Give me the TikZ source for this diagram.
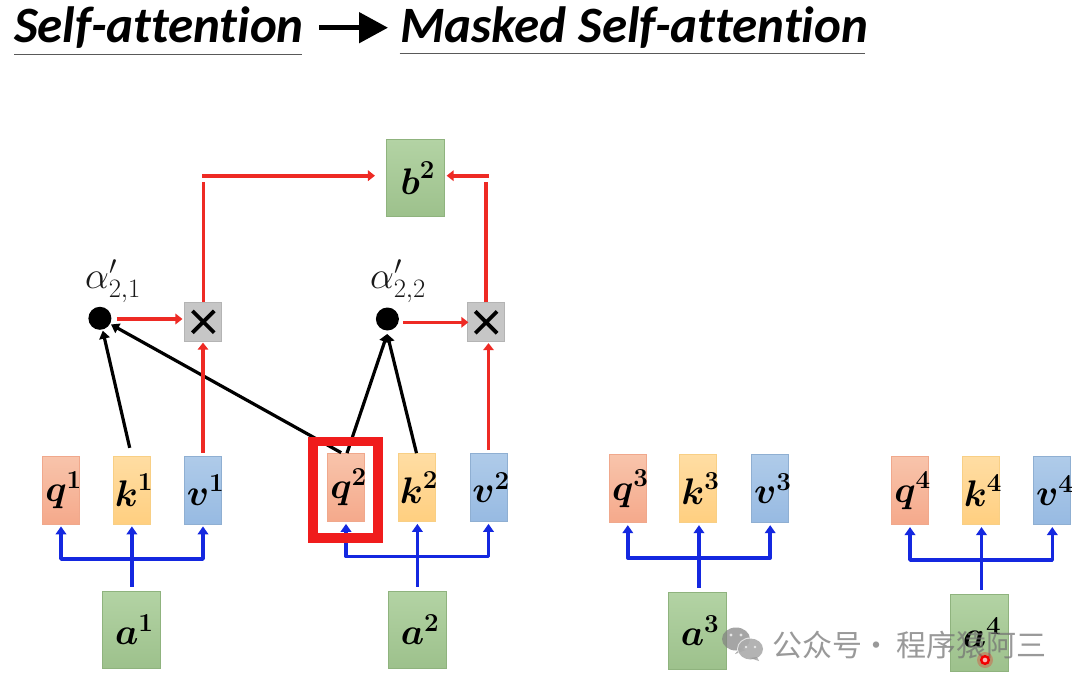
\RequirePackage{fix-cm}
\documentclass[tikz,border=0pt]{standalone}
\usepackage{amsmath}
\usepackage[no-math]{fontspec}
\usetikzlibrary{arrows.meta,shapes.misc}
\newfontfamily\titlefont[Ligatures=NoCommon]{Carlito}
\newfontfamily\cjkfont{Noto Sans CJK SC}
\newcommand{\veclabel}[2]{\makebox[0pt]{\hspace{5pt}$\boldsymbol{#1}^{\mathbf{#2}}$}}
\definecolor{arrowred}{HTML}{EE2A24}
\definecolor{arrowblue}{HTML}{1428E0}
\definecolor{qtop}{HTML}{F8C4AB}\definecolor{qbot}{HTML}{F5A98B}\definecolor{qline}{HTML}{F0A88C}
\definecolor{ktop}{HTML}{FFDDA3}\definecolor{kbot}{HTML}{FFCF80}\definecolor{kline}{HTML}{F8CF85}
\definecolor{vtop}{HTML}{AFCBE9}\definecolor{vbot}{HTML}{97BAE2}\definecolor{vline}{HTML}{8FAFD2}
\definecolor{gtop}{HTML}{B3D3A4}\definecolor{gbot}{HTML}{9DC18C}\definecolor{gline}{HTML}{8FB37E}
\definecolor{mulfill}{HTML}{C6C6C6}\definecolor{mulline}{HTML}{B4B4B4}
\definecolor{focusred}{HTML}{F01C1C}
\tikzset{
  vecfont/.style={font=\fontsize{37}{37}\selectfont},
  cell/.style={draw, line width=0.7pt, inner sep=0pt, minimum width=37pt, minimum height=68pt, text=black, vecfont},
  qcell/.style={cell, top color=qtop, bottom color=qbot, draw=qline},
  kcell/.style={cell, top color=ktop, bottom color=kbot, draw=kline},
  vcell/.style={cell, top color=vtop, bottom color=vbot, draw=vline},
  greencell/.style={cell, minimum width=58pt, minimum height=77pt, top color=gtop, bottom color=gbot, draw=gline},
  mulcell/.style={draw=mulline, fill=mulfill, line width=0.7pt, minimum width=37pt, minimum height=39pt, inner sep=0pt},
  mulmark/.style={cross out, draw=black, line width=3.8pt, minimum size=18pt, inner sep=0pt},
  weightdot/.style={circle, fill=black, minimum size=23pt, inner sep=0pt},
  weightlabel/.style={font=\fontsize{38}{38}\selectfont, text=black!90, inner sep=0pt},
  redflow/.style={draw=arrowred, line width=3.6pt, -{Triangle[length=7pt,width=10.5pt]}},
  redline/.style={draw=arrowred, line width=3.6pt},
  blueflow/.style={draw=arrowblue, line width=3.6pt, -{Triangle[length=8pt,width=10.5pt]}, line join=round},
  blackflow/.style={draw=black, line width=3.2pt, -{Triangle[length=8pt,width=10.5pt]}},
  headline/.style={font=\titlefont\bfseries\itshape\fontsize{51}{51}\selectfont, anchor=base west, inner sep=0pt},
  rule/.style={draw=black!65, line width=1.4pt},
  focus/.style={draw=focusred, line width=9.5pt, minimum width=65pt, minimum height=96.5pt, inner sep=0pt},
  stamp/.style={font=\cjkfont\fontsize{30}{30}\selectfont, text=black!55, opacity=0.72, inner sep=0pt, anchor=west}
}
\begin{document}
\begin{tikzpicture}[x=1pt,y=-1pt]
\useasboundingbox (0,0) rectangle (1080,688);
\fill[white] (0,0) rectangle (1080,688);

% heading
\node[headline] (titleA) at (14,42.5) {Self-attention};
\node[headline] (titleB) at (400,42) {Masked Self-attention};
\coordinate (ruleA1) at (14,54.5); \coordinate (ruleA2) at (302,54.5);
\coordinate (ruleB1) at (399.5,53.5); \coordinate (ruleB2) at (865,53.5);
\draw[rule] (ruleA1) -- (ruleA2);
\draw[rule] (ruleB1) -- (ruleB2);
\coordinate (headA) at (319,27.7); \coordinate (headB) at (388,27.7);
\draw[line width=5pt, -{Triangle[length=29pt,width=30pt]}] (headA) -- (headB);

% output
\node[greencell] (b2) at (415.3,178) {\veclabel{b}{2}};

% first group
\node[qcell] (q1) at (61,490) {\veclabel{q}{1}};
\node[kcell] (k1) at (131.5,490) {\veclabel{k}{1}};
\node[vcell] (v1) at (203,490) {\veclabel{v}{1}};
\node[greencell] (a1) at (131.8,629.5) {\veclabel{a}{1}};
% second group
\node[qcell] (q2) at (346,487.5) {\veclabel{q}{2}};
\node[kcell] (k2) at (416.5,487.5) {\veclabel{k}{2}};
\node[vcell] (v2) at (488.5,487.5) {\veclabel{v}{2}};
\node[greencell] (a2) at (417.5,629.5) {\veclabel{a}{2}};
% third group
\node[qcell] (q3) at (627.8,488.8) {\veclabel{q}{3}};
\node[kcell] (k3) at (697.8,488.8) {\veclabel{k}{3}};
\node[vcell] (v3) at (770.2,488.8) {\veclabel{v}{3}};
\node[greencell] (a3) at (697.5,630.7) {\veclabel{a}{3}};
% fourth group
\node[qcell] (q4) at (910,490.7) {\veclabel{q}{4}};
\node[kcell] (k4) at (980.5,490.7) {\veclabel{k}{4}};
\node[vcell] (v4) at (1052.3,490.7) {\veclabel{v}{4}};
\node[greencell] (a4) at (979.5,632.7) {\veclabel{a}{4}};

% attention weights and products
\node[weightdot] (w1) at (99.9,318.3) {};
\node[weightdot] (w2) at (387.4,319) {};
\node[weightlabel] (w1t) at (113,281) {$\alpha'_{2,1}$};
\node[weightlabel] (w2t) at (398,281) {$\alpha'_{2,2}$};
\node[mulcell] (m1) at (203.3,321.8) {};
\node[mulcell] (m2) at (486.2,322.3) {};
\node[mulmark] (m1x) at (m1) {};
\node[mulmark] (m2x) at (m2) {};

% black score arrows
\coordinate (w2in) at (387.2,334);
\draw[blackflow, shorten <=8pt, shorten >=1pt] (k1.north) -- (w1);
\draw[blackflow, shorten <=1pt, shorten >=1pt] ([xshift=-4pt]q2.north) -- (w1);
\draw[blackflow] ([xshift=1pt]q2.north) -- (w2in);
\draw[blackflow] (k2.north) -- (w2in);

% red value arrows
\draw[redflow, shorten <=3pt, shorten >=2pt] (w1) ++(14,0.7) coordinate (w1out) -- (m1.west |- w1out);
\draw[redflow, shorten <=2pt, shorten >=-1pt] (w2) ++(14,3.3) coordinate (w2out) -- (m2.west |- w2out);
\draw[redflow, shorten <=3pt, shorten >=1pt] (v1.north) -- (v1.north |- m1.south);
\draw[redflow, shorten <=3pt, shorten >=1pt] (v2.north) -- (v2.north |- m2.south);
\draw[redline, shorten >=4pt] (m1.north) -- (m1.north |- b2.west);
\draw[redline, shorten >=4pt] (m2.north) -- (m2.north |- b2.west);
\coordinate (c1) at (202,175.7);
\coordinate (c2) at (489,175.7);
\draw[redflow, shorten >=11pt] (c1) -- (c1 -| b2.west);
\draw[redflow, shorten >=2pt] (c2) -- (c2 -| b2.east);

% blue embedding arrows
\coordinate (hub1) at (131.9,559);
\coordinate (hub2) at (417.4,556.5);
\coordinate (hub3) at (699,558);
\coordinate (hub4) at (981.5,560);
\foreach \h/\a/\q/\k/\v in {hub1/a1/q1/k1/v1, hub2/a2/q2/k2/v2, hub3/a3/q3/k3/v3, hub4/a4/q4/k4/v4}{
  \draw[blueflow, shorten >=2pt] (\h) -| (\q.south);
  \draw[blueflow, shorten >=2pt] (\h) -| (\v.south);
  \draw[blueflow, shorten <=4pt, shorten >=2pt] (\h |- \a.north) -- (\h |- \k.south);
}

% highlight around the second query
\node[focus] (hl) at (345.7,489.7) {};

% channel stamp
\begin{scope}[opacity=0.7]
  \fill[black!50] (736,639) ellipse (14pt and 11.5pt);
  \fill[black!50] (740,648) -- (735,654) -- (746,650) -- cycle;
  \fill[white] (750.5,649) ellipse (13.5pt and 11.5pt);
  \fill[black!42] (750.5,649) ellipse (12.5pt and 10.5pt);
  \fill[black!42] (757,657) -- (759,661) -- (750,658) -- cycle;
  \fill[white] (731,635) circle (1.6pt) (741,635) circle (1.6pt);
  \fill[white] (746,647) circle (1.4pt) (755,647) circle (1.4pt);
\end{scope}
\node[stamp] (stamptext) at (772,645) {公众号\makebox[34pt]{·\hspace{6pt}}程序猿阿三};

% pointer mark
\fill[red, opacity=0.25] (985,660) circle (8pt);
\draw[red!95!black, line width=2.4pt, fill=white!70!red] (985,660) circle (3.8pt);
\end{tikzpicture}
\end{document}
